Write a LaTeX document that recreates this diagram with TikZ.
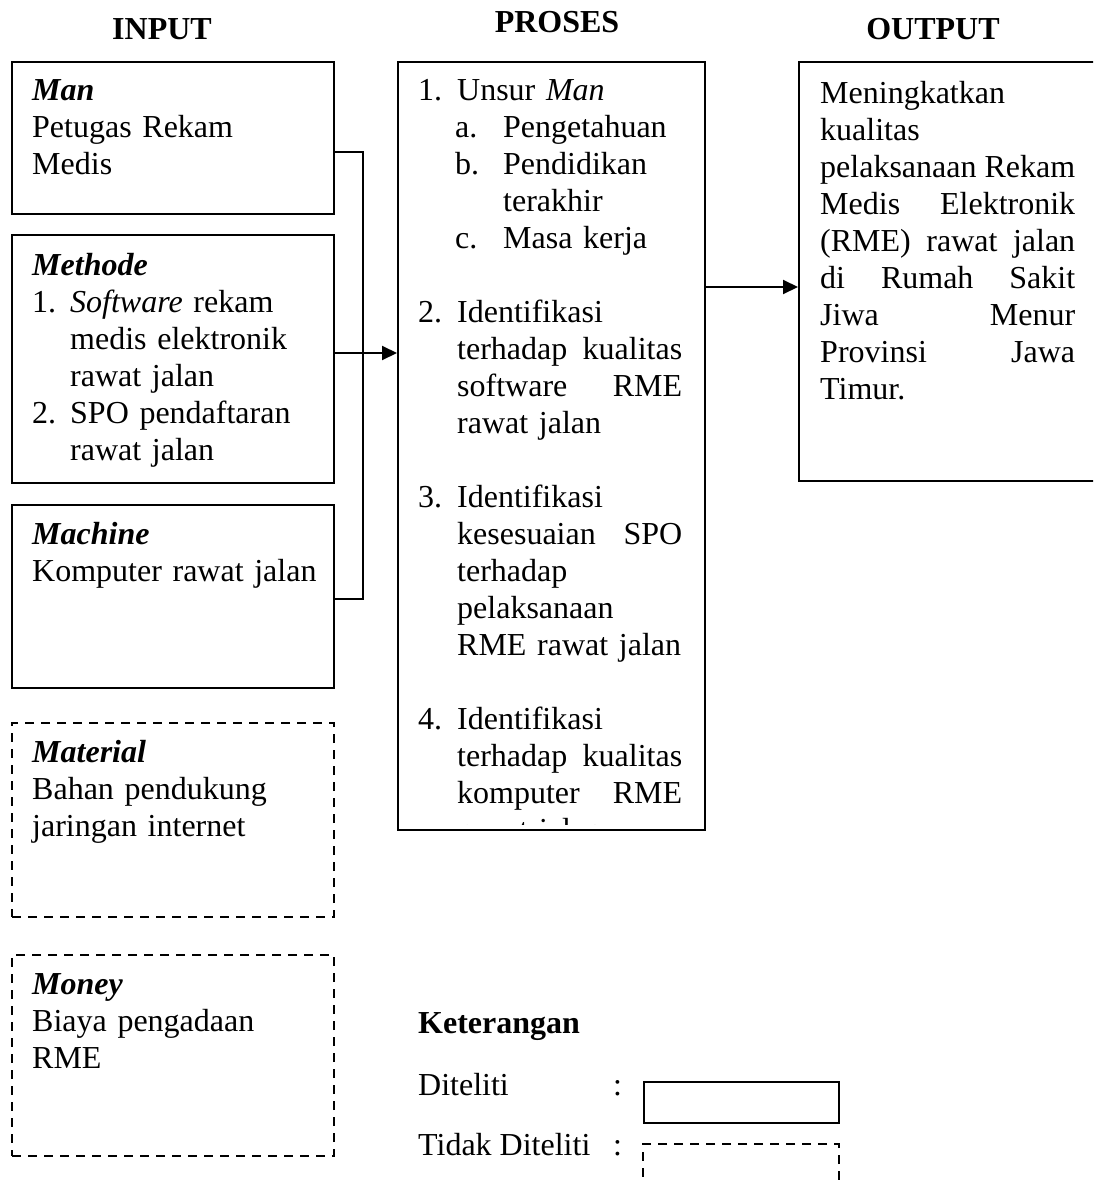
\documentclass[tikz,border=0pt]{standalone}
\usepackage{fontspec}
\setmainfont{Liberation Serif}
\usetikzlibrary{arrows.meta}
\newcommand\ms{\rule{0pt}{27pt}}
\newcommand\fs{\fontsize{32pt}{37pt}\selectfont}
\begin{document}
\begin{tikzpicture}[x=1pt,y=-1pt,
  box/.style={draw, line width=2pt, inner sep=0pt, anchor=north west},
  dbox/.style={box, dash pattern=on 9pt off 7pt},
  txt/.style={anchor=north west, inner sep=0pt, font=\fs, align=left, text width=#1},
  txt/.default=300pt,
  head/.style={anchor=base, inner sep=0pt, font=\fs\bfseries},
  lbl/.style={anchor=base west, inner sep=0pt, font=\fs},
  conn/.style={line width=2pt},
  arr/.style={line width=2pt, -{Triangle[length=15pt,width=14pt]}}]
\useasboundingbox (0,0) rectangle (1093,1180);
\clip (0,0) rectangle (1093,1180);
\fill[white] (0,0) rectangle (1093,1180);

% headers
\node[head] (hin) at (162,40) {INPUT};
\node[head] (hpr) at (557,33) {PROSES};
\node[head] (hout) at (933,40) {OUTPUT};

% input boxes
\node[box, minimum width=322pt, minimum height=152pt] (man) at (11,61) {};
\node[box, minimum width=322pt, minimum height=248pt] (methode) at (11,234) {};
\node[box, minimum width=322pt, minimum height=183pt] (machine) at (11,504) {};
\node[dbox, minimum width=322pt, minimum height=194pt] (material) at (11,722) {};
\node[dbox, minimum width=322pt, minimum height=201pt] (money) at (11,954) {};

\node[txt] (tman) at (32,73) {\ms\textbf{\textit{Man}}\\Petugas Rekam\\Medis};
\node[txt] (tmet) at (32,248) {\ms\textbf{\textit{Methode}}\\
\makebox[38pt][l]{1.}\textit{Software} rekam\\
\hspace*{38pt}medis elektronik\\
\hspace*{38pt}rawat jalan\\
\makebox[38pt][l]{2.}SPO pendaftaran\\
\hspace*{38pt}rawat jalan};
\node[txt] (tmac) at (32,517) {\ms\textbf{\textit{Machine}}\\Komputer rawat jalan};
\node[txt] (tmat) at (32,735) {\ms\textbf{\textit{Material}}\\Bahan pendukung\\jaringan internet};
\node[txt] (tmon) at (32,967) {\ms\textbf{\textit{Money}}\\Biaya pengadaan\\RME};

% process box
\node[box, minimum width=307pt, minimum height=768pt] (proses) at (397,61) {};
\begin{scope}
\clip (400,64) rectangle (701,824);
\node[txt=285pt] (tpro) at (418,73) {\ms\makebox[39pt][l]{1.}Unsur \textit{Man}\\
\hspace*{37pt}\makebox[48pt][l]{a.}Pengetahuan\\
\hspace*{37pt}\makebox[48pt][l]{b.}Pendidikan\\
\hspace*{85pt}terakhir\\
\hspace*{37pt}\makebox[48pt][l]{c.}Masa kerja\\
\mbox{}\\
\makebox[39pt][l]{2.}Identifikasi\\
\hspace*{39pt}\makebox[225pt][s]{terhadap\hfill kualitas}\\
\hspace*{39pt}\makebox[225pt][s]{software\hfill RME}\\
\hspace*{39pt}rawat jalan\\
\mbox{}\\
\makebox[39pt][l]{3.}Identifikasi\\
\hspace*{39pt}\makebox[225pt][s]{kesesuaian\hfill SPO}\\
\hspace*{39pt}terhadap\\
\hspace*{39pt}pelaksanaan\\
\hspace*{39pt}RME rawat jalan\\
\mbox{}\\
\makebox[39pt][l]{4.}Identifikasi\\
\hspace*{39pt}\makebox[225pt][s]{terhadap\hfill kualitas}\\
\hspace*{39pt}\makebox[225pt][s]{komputer\hfill RME}\\
\hspace*{39pt}rawat jalan};
\end{scope}

% output box
\node[box, minimum width=320pt, minimum height=419pt] (output) at (798,61) {};
\node[txt=262pt] (tout) at (820,76) {\ms Meningkatkan\\
kualitas\\
\makebox[255pt][s]{pelaksanaan\hfill Rekam}\\
\makebox[255pt][s]{Medis\hfill Elektronik}\\
\makebox[255pt][s]{(RME)\hfill rawat\hfill jalan}\\
\makebox[255pt][s]{di\hfill Rumah\hfill Sakit}\\
\makebox[255pt][s]{Jiwa\hfill Menur}\\
\makebox[255pt][s]{Provinsi\hfill Jawa}\\
Timur.};

% connectors
\coordinate (j1) at (363,152);
\coordinate (j2) at (363,599);
\coordinate (m1) at (363,353);
\coordinate (m2) at (750,287);
\draw[conn] (man.east |- j1) -- (j1) -- (j2) -- (machine.east |- j2);
\draw[arr] (methode.east |- m1) -- (proses.west |- m1);
\draw[arr] (proses.east |- m2) -- (output.west |- m2);

% legend
\node[lbl, font=\fs\bfseries] (ket) at (418,1033) {Keterangan};
\node[lbl] (dit) at (418,1095) {Diteliti};
\node[lbl] (c1) at (613,1095) {:};
\node[lbl] (tdit) at (418,1155) {Tidak Diteliti};
\node[lbl] (c2) at (613,1155) {:};
\node[box, minimum width=195pt, minimum height=41pt] (lsolid) at (643,1081) {};
\node[dbox, minimum width=196pt, minimum height=80pt] (ldash) at (642,1143) {};
\end{tikzpicture}
\end{document}
